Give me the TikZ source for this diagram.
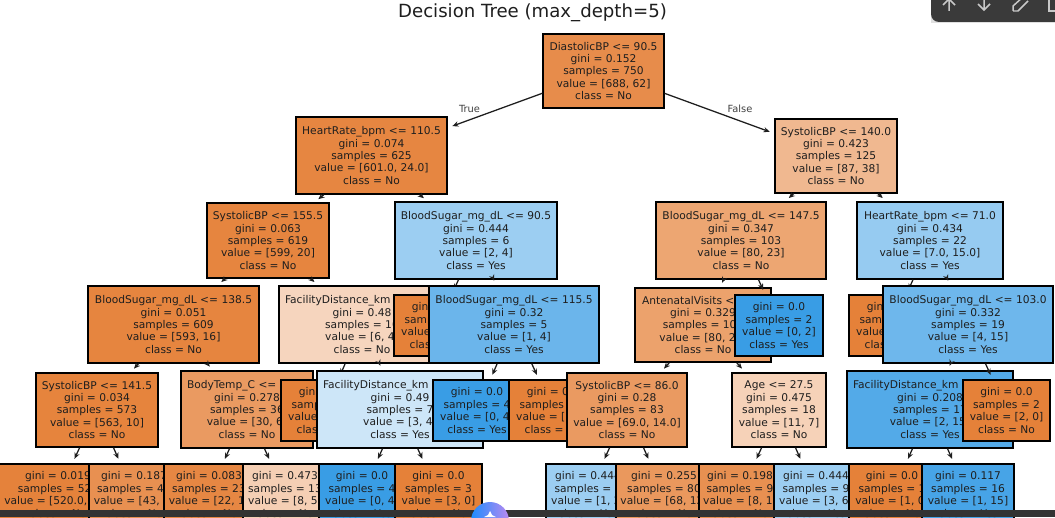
\documentclass[tikz,border=0pt]{standalone}
\usepackage{fontspec}
\setmainfont{DejaVu Sans}
\usetikzlibrary{arrows.meta,shadings}
\definecolor{cno}{HTML}{E58139}
\definecolor{cyes}{HTML}{399DE5}
\definecolor{ink}{HTML}{1E1E1E}
\definecolor{barc}{HTML}{333333}
\definecolor{toolc}{HTML}{3A3A3A}
\definecolor{iconc}{HTML}{C8C8C8}
\definecolor{btnl}{HTML}{1E8CFF}
\definecolor{btnr}{HTML}{B98AF0}
\tikzset{
  tbox/.style={draw=black,line width=1pt,inner sep=0pt,align=center,text=ink,
    font=\fontsize{8}{9.35}\selectfont},
  conn/.style={draw=ink,line width=0.95pt,shorten >=3.75pt,-{Stealth[length=4.6pt,width=4pt]}},
  edgelab/.style={inner sep=0pt,text=ink!85,font=\fontsize{7.4}{8}\selectfont},
  titlelab/.style={inner sep=0pt,text=ink,font=\fontsize{13.6}{15}\selectfont},
  icon/.style={draw=iconc,line width=1.1pt}
}
\newcommand{\tn}[7]{\node[tbox,fill=#6,minimum width={(#4-#2)*0.75pt},minimum height={(#5-#3)*0.75pt}] (#1) at ({(#2+#4)/2},{(#3+#5)/2}) {#7};}
\newcommand{\ar}[2]{\draw[conn] (#1) -- (#2);}
\newcommand{\fl}[2]{\makebox[#1pt][l]{#2}}
\begin{document}
\begin{tikzpicture}[x=0.75pt,y=-0.75pt]
\useasboundingbox (0,0) rectangle (1055,517);
\clip (0,0) rectangle (1055,517);
\fill[white] (0,0) rectangle (1055,517);
\node[titlelab] (title) at (532.5,13) {Decision Tree (max\_depth=5)};
% root
\tn{n0}{543}{34}{664}{108}{cno!91!white}{DiastolicBP <= 90.5\\gini = 0.152\\samples = 750\\value = [688, 62]\\class = No}
\tn{n1}{296}{117}{447}{194}{cno!96!white}{HeartRate\_bpm <= 110.5\\gini = 0.074\\samples = 625\\value = [601.0, 24.0]\\class = No}
\ar{n0}{n1}
\tn{n2}{207}{203}{329}{278}{cno!97!white}{SystolicBP <= 155.5\\gini = 0.063\\samples = 619\\value = [599, 20]\\class = No}
\ar{n1}{n2}
\tn{n3}{88}{286}{259}{363}{cno!97!white}{BloodSugar\_mg\_dL <= 138.5\\gini = 0.051\\samples = 609\\value = [593, 16]\\class = No}
\ar{n2}{n3}
\tn{n4}{36}{373}{158}{447}{cno!98!white}{SystolicBP <= 141.5\\gini = 0.034\\samples = 573\\value = [563, 10]\\class = No}
\ar{n3}{n4}
\tn{n5}{-4}{464}{120}{525}{cno!99!white}{gini = 0.019\\samples = 525\\value = [520.0, 5.0]\\class = No}
\ar{n4}{n5}
\tn{n6}{89}{464}{179}{525}{cno!88!white}{gini = 0.187\\samples = 48\\value = [43, 5]\\class = No}
\ar{n4}{n6}
\tn{n7}{181}{371}{313}{448}{cno!80!white}{\fl{90}{BodyTemp\_C <=}\\gini = 0.278\\samples = 36\\value = [30, 6]\\class = No}
\ar{n3}{n7}
\tn{n8}{164}{464}{254}{525}{cno!95!white}{gini = 0.083\\samples = 23\\value = [22, 1]\\class = No}
\ar{n7}{n8}
\tn{n9}{243}{464}{327}{525}{cno!38!white}{gini = 0.473\\samples = 13\\value = [8, 5]\\class = No}
\ar{n7}{n9}
\tn{n10}{279}{286}{445}{363}{cno!33!white}{\fl{115.5}{FacilityDistance\_km}\\gini = 0.48\\samples = 10\\value = [6, 4]\\class = No}
\ar{n2}{n10}
\tn{n11}{281}{380}{369}{441}{cno}{gini = 0.0\\samples = 3\\value = [3, 0]\\class = No}
\ar{n10}{n11}
\tn{n12}{317}{371}{483}{448}{cyes!25!white}{\fl{115.5}{FacilityDistance\_km}\\gini = 0.49\\samples = 7\\value = [3, 4]\\class = Yes}
\ar{n10}{n12}
\tn{n13}{319}{464}{405}{525}{cyes}{gini = 0.0\\samples = 4\\value = [0, 4]\\class = Yes}
\ar{n12}{n13}
\tn{n14}{395}{464}{482}{525}{cno}{gini = 0.0\\samples = 3\\value = [3, 0]\\class = No}
\ar{n12}{n14}
\tn{n15}{395}{202}{557}{279}{cyes!50!white}{BloodSugar\_mg\_dL <= 90.5\\gini = 0.444\\samples = 6\\value = [2, 4]\\class = Yes}
\ar{n1}{n15}
\tn{n16}{394}{295}{482}{356}{cno}{gini = 0.0\\samples = 1\\value = [1, 0]\\class = No}
\ar{n15}{n16}
\tn{n17}{429}{286}{599}{363}{cyes!75!white}{BloodSugar\_mg\_dL <= 115.5\\gini = 0.32\\samples = 5\\value = [1, 4]\\class = Yes}
\ar{n15}{n17}
\tn{n18}{433}{380}{521}{441}{cyes}{gini = 0.0\\samples = 4\\value = [0, 4]\\class = Yes}
\ar{n17}{n18}
\tn{n19}{509}{380}{597}{441}{cno}{gini = 0.0\\samples = 1\\value = [1, 0]\\class = No}
\ar{n17}{n19}
% right subtree
\tn{n20}{775}{119}{897}{193}{cno!56!white}{SystolicBP <= 140.0\\gini = 0.423\\samples = 125\\value = [87, 38]\\class = No}
\ar{n0}{n20}
\tn{n21}{656}{202}{826}{279}{cno!71!white}{BloodSugar\_mg\_dL <= 147.5\\gini = 0.347\\samples = 103\\value = [80, 23]\\class = No}
\ar{n20}{n21}
\tn{n22}{635}{288}{771}{362}{cno!74!white}{\fl{91.5}{AntenatalVisits <}\\gini = 0.329\\samples = 101\\value = [80, 21]\\class = No}
\ar{n21}{n22}
\tn{n23}{567}{373}{687}{447}{cno!80!white}{SystolicBP <= 86.0\\gini = 0.28\\samples = 83\\value = [69.0, 14.0]\\class = No}
\ar{n22}{n23}
\tn{n24}{546}{464}{630}{525}{cyes!50!white}{gini = 0.444\\samples = 3\\value = [1, 2]\\class = Yes}
\ar{n23}{n24}
\tn{n25}{616}{464}{712}{525}{cno!82!white}{gini = 0.255\\samples = 80\\value = [68, 12]\\class = No}
\ar{n23}{n25}
\tn{n26}{732}{373}{826}{447}{cno!36!white}{Age <= 27.5\\gini = 0.475\\samples = 18\\value = [11, 7]\\class = No}
\ar{n22}{n26}
\tn{n27}{699}{464}{781}{525}{cno!88!white}{gini = 0.198\\samples = 9\\value = [8, 1]\\class = No}
\ar{n26}{n27}
\tn{n28}{774}{464}{858}{525}{cyes!50!white}{gini = 0.444\\samples = 9\\value = [3, 6]\\class = Yes}
\ar{n26}{n28}
\tn{n29}{735}{295}{823}{356}{cyes}{gini = 0.0\\samples = 2\\value = [0, 2]\\class = Yes}
\ar{n21}{n29}
\tn{n30}{857}{202}{1003}{279}{cyes!53!white}{HeartRate\_bpm <= 71.0\\gini = 0.434\\samples = 22\\value = [7.0, 15.0]\\class = Yes}
\ar{n20}{n30}
\tn{n31}{849}{295}{937}{356}{cno}{gini = 0.0\\samples = 3\\value = [3, 0]\\class = No}
\ar{n30}{n31}
\tn{n32}{883}{286}{1053}{363}{cyes!73!white}{BloodSugar\_mg\_dL <= 103.0\\gini = 0.332\\samples = 19\\value = [4, 15]\\class = Yes}
\ar{n30}{n32}
\tn{n33}{847}{371}{1013}{448}{cyes!87!white}{\fl{115.5}{FacilityDistance\_km}\\gini = 0.208\\samples = 17\\value = [2, 15]\\class = Yes}
\ar{n32}{n33}
\tn{n34}{849}{464}{935}{525}{cno}{gini = 0.0\\samples = 1\\value = [1, 0]\\class = No}
\ar{n33}{n34}
\tn{n35}{922}{464}{1014}{525}{cyes!93!white}{gini = 0.117\\samples = 16\\value = [1, 15]\\class = Yes}
\ar{n33}{n35}
\tn{n36}{963}{380}{1050}{441}{cno}{gini = 0.0\\samples = 2\\value = [2, 0]\\class = No}
\ar{n32}{n36}
% edge labels
\node[edgelab] (ltrue) at (469.5,109) {True};
\node[edgelab] (lfalse) at (740,109) {False};
% bottom bar and floating button
\fill[barc] (0,510) rectangle (1055,517);
\shade[left color=btnl,right color=btnr] (490,521) circle (19);
\fill[white] (490,511) -- (492,515) -- (496,517) -- (484,517) -- (488,515) -- cycle;
% toolbar overlay
\fill[black!12] (931,-8) rectangle (1060,23.5);
\fill[toolc,rounded corners=6pt] (931,-12) rectangle (1065,22);
\draw[icon] (949,11) -- (949,-2) (943,5) -- (949,-1) -- (955,5);
\draw[icon] (984,-3) -- (984,10) (978,4) -- (984,10) -- (990,4);
\draw[icon] (1013,11) -- (1013,6) -- (1023,-3) (1013,11) -- (1018,11) -- (1028,1);
\draw[icon] (1049,-2) rectangle (1060,11);
\end{tikzpicture}
\end{document}
